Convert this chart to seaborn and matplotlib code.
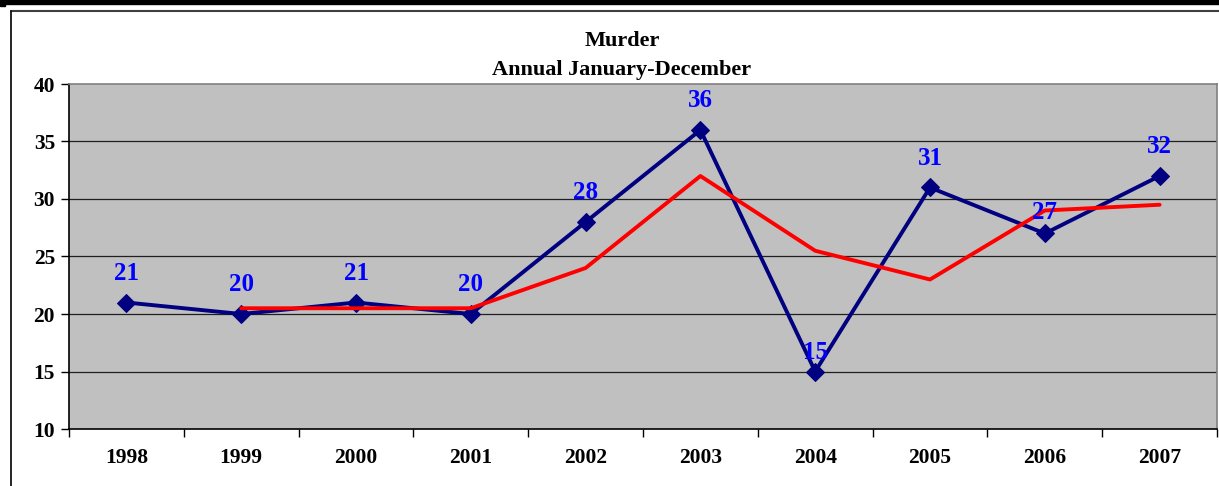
import numpy as np
import pandas as pd
import matplotlib.pyplot as plt
import seaborn as sns
from matplotlib.lines import Line2D
from matplotlib.patches import Rectangle

# ---- data ----
years = [1998, 1999, 2000, 2001, 2002, 2003, 2004, 2005, 2006, 2007]
murders = [21, 20, 21, 20, 28, 36, 15, 31, 27, 32]
moving_avg = [np.nan, 20.5, 20.5, 20.5, 24, 32, 25.5, 23, 29, 29.5]

df = pd.DataFrame({"Year": years, "Murder": murders, "Avg": moving_avg})

sns.set_theme(style="white")
plt.rcParams['font.family'] = ['Liberation Serif', 'DejaVu Serif']
plt.rcParams['text.color'] = 'black'
plt.rcParams['xtick.color'] = 'black'
plt.rcParams['ytick.color'] = 'black'
plt.rcParams['xtick.labelcolor'] = 'black'
plt.rcParams['ytick.labelcolor'] = 'black'

fig = plt.figure(figsize=(12.19, 4.86), dpi=100)
ax = fig.add_axes([69 / 1219, 57 / 486, 1148 / 1219, 345 / 486])
ax.set_facecolor("#C0C0C0")

sns.lineplot(data=df, x="Year", y="Murder", color="#000080", linewidth=2.8,
             marker="D", markersize=9, markeredgecolor="#000080", ax=ax, zorder=3)
sns.lineplot(data=df.dropna(), x="Year", y="Avg", color="#FF0000", linewidth=2.8,
             ax=ax, zorder=4)

# value labels
low = {2004: 14, 2006: 15}
for yr, v in zip(years, murders):
    ax.annotate(str(v), (yr, v), xytext=(0, low.get(yr, 21)), textcoords="offset points",
                ha="center", va="center", color="#0000FF", fontsize=18,
                fontweight="bold", zorder=5)

ax.set_xlim(1997.5, 2007.5)
ax.set_ylim(10, 40)
ax.set_yticks(range(10, 41, 5))
ax.set_xticks(years)
ax.set_xticks(np.arange(1997.5, 2008, 1), minor=True)
ax.tick_params(axis="x", which="major", bottom=True, length=0, pad=14, labelsize=15.5)
ax.tick_params(axis="x", which="minor", bottom=True, length=6, width=1, color="black", direction="out")
ax.tick_params(axis="y", left=True, length=6, width=1, color="black", direction="out", labelsize=15.5, pad=4)
for lab in ax.get_xticklabels() + ax.get_yticklabels():
    lab.set_fontweight("bold")
ax.set_xlabel("")
ax.set_ylabel("")
ax.grid(False)
for y in range(15, 40, 5):
    ax.axhline(y, color="#202020", linewidth=0.9, zorder=1)

ax.spines["left"].set_color("black")
ax.spines["bottom"].set_color("black")
ax.spines["top"].set_color("#808080")
ax.spines["right"].set_color("#808080")
for s in ax.spines.values():
    s.set_linewidth(1.2)

# titles
fig.text(622 / 1219, 1 - 41 / 486, "Murder", ha="center", va="center",
         fontsize=16, fontweight="bold")
fig.text(622 / 1219, 1 - 70 / 486, "Annual January-December", ha="center", va="center",
         fontsize=16, fontweight="bold")

# chart frame
fig.patches.append(Rectangle((0, 1 - 4.5 / 486), 1, 4.5 / 486, transform=fig.transFigure,
                             color="black", zorder=10))
fig.patches.append(Rectangle((0, 1 - 6.5 / 486), 5 / 1219, 2.5 / 486, transform=fig.transFigure,
                             color="black", zorder=10))
fig.lines.append(Line2D([11 / 1219, 1], [1 - 11.5 / 486, 1 - 11.5 / 486], transform=fig.transFigure,
                        color="#404040", linewidth=1.5))
fig.lines.append(Line2D([11 / 1219, 11 / 1219], [1 - 11.5 / 486, 0], transform=fig.transFigure,
                        color="black", linewidth=1.2))

fig.savefig("out.png", dpi=100)
